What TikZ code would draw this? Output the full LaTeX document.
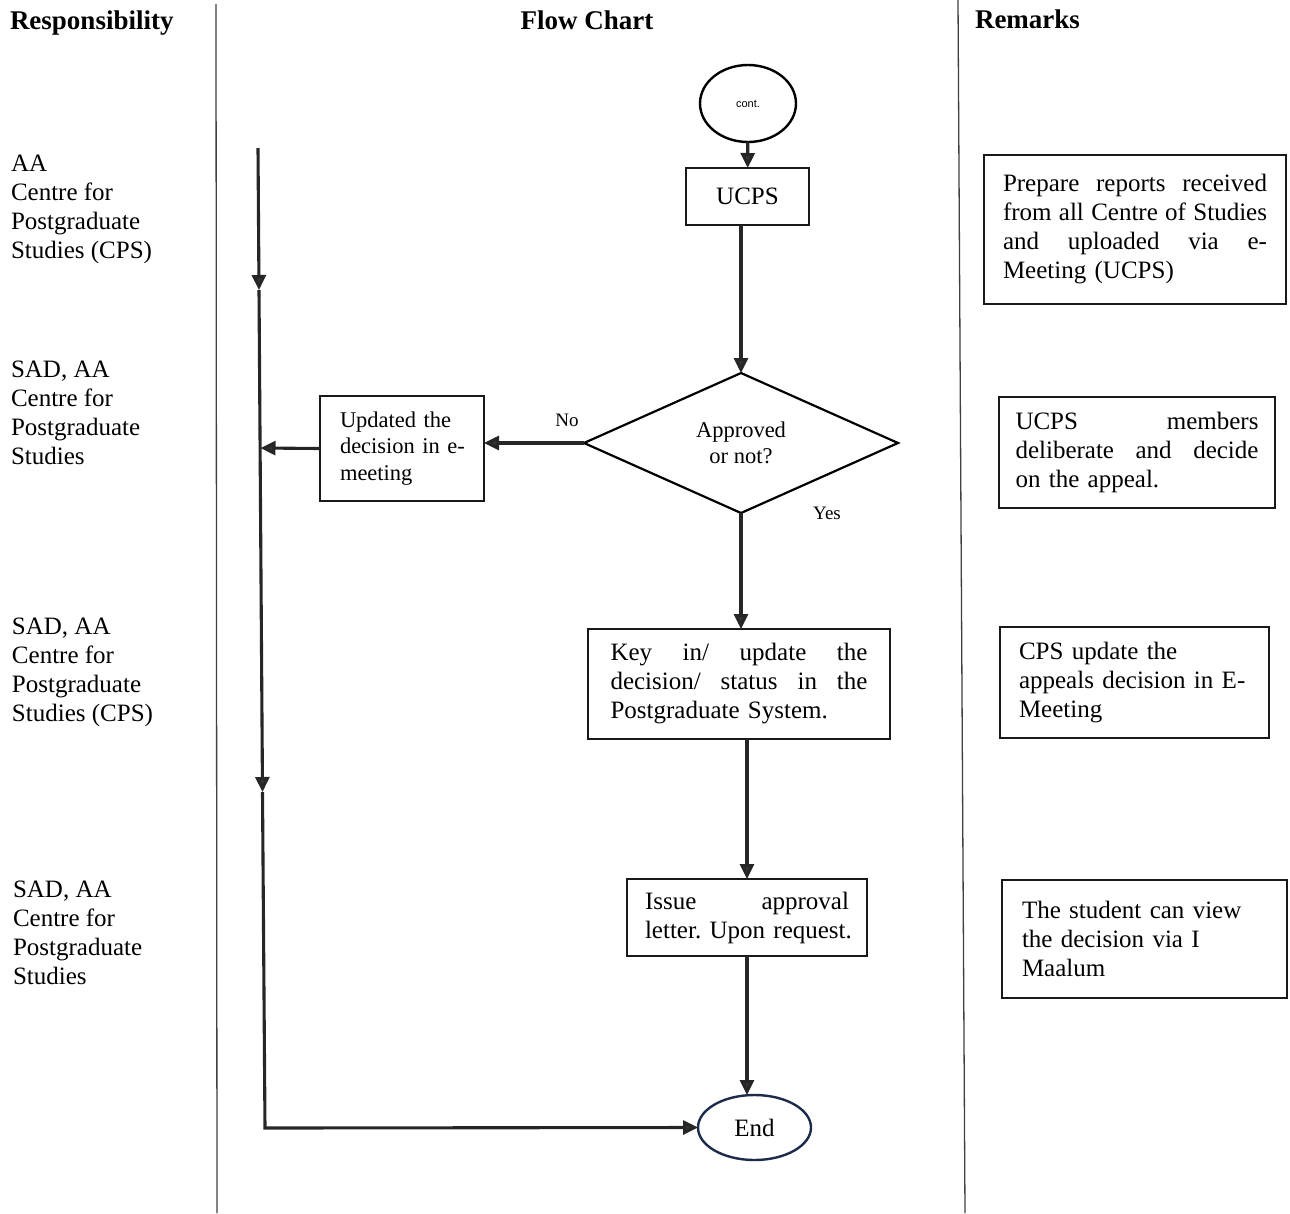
\documentclass[tikz,border=0pt]{standalone}
\usepackage{fontspec}
\setmainfont{Liberation Serif}
\newfontfamily\contfont{Liberation Sans}
\usetikzlibrary{arrows.meta,shapes.geometric}
\newcommand{\jl}[2]{\leavevmode\hbox to #1{#2}}
\definecolor{navy}{HTML}{1C2B4A}
\frenchspacing
\begin{document}
\begin{tikzpicture}[x=1pt,y=-1pt,
  every node/.style={inner sep=0pt,outer sep=0pt},
  body/.style={font=\fontsize{25}{29}\selectfont},
  small/.style={font=\fontsize{22.5}{26.5}\selectfont},
  hdr/.style={font=\fontsize{27}{30}\selectfont\bfseries},
  lbl/.style={body,align=left,anchor=west},
  bx/.style={draw=black!90,line width=1.7pt,rectangle,align=left},
  conn/.style={line width=3.1pt,draw=black!85,-{Triangle[length=15pt,width=14pt,fill=black!80]}},
  divider/.style={line width=1.3pt,draw=black!75}
]
\useasboundingbox (0,0) rectangle (1290,1213);

% column dividers
\draw[divider] (216,4) -- (217,1213);
\draw[divider] (958,0) -- (965,1213);

% headers
\node[hdr,anchor=west] (h1) at (10,23) {Responsibility};
\node[hdr] (h2) at (587,20) {Flow Chart};
\node[hdr,anchor=west] (h3) at (975,19) {Remarks};

% responsibility labels
\node[lbl] (l1) at (11,209.5) {AA\\Centre for\\Postgraduate\\Studies (CPS)};
\node[lbl] (l2) at (11,412.5) {SAD, AA\\Centre for\\Postgraduate\\Studies};
\node[lbl] (l3) at (12,672.5) {SAD, AA\\Centre for\\Postgraduate\\Studies (CPS)};
\node[lbl] (l4) at (13,932.5) {SAD, AA\\Centre for\\Postgraduate\\Studies};

% flow chart
\node[ellipse,draw=black,line width=2.4pt,minimum width=96,minimum height=77,
      font=\contfont\fontsize{11}{13}\selectfont] (cont) at (748,103.5) {cont.};
\node[bx,body,minimum width=123,minimum height=57] (ucps) at (747.5,196.5) {UCPS};
\node[diamond,draw=black,line width=2.2pt,minimum width=314,minimum height=140,
      small,align=center] (dia) at (741,443) {Approved\\or not?};
\node[bx,small,text width=124,minimum width=164,minimum height=105] (upd) at (402,448.5)
      {\mbox{Updated the}\\\mbox{decision in e-}\\\mbox{meeting}};
\node[bx,body,text width=257,minimum width=302,minimum height=110] (key) at (739,684)
      {\jl{257pt}{Key\hfill in/\hfill update\hfill the}\\\jl{257pt}{decision/\hfill status\hfill in\hfill the}\\\mbox{Postgraduate System.}};
\node[bx,body,text width=204,minimum width=240,minimum height=77] (issue) at (747,917.5)
      {\jl{204pt}{Issue\hfill approval}\\\mbox{letter. Upon request.}};
\node[ellipse,draw=navy,line width=2.4pt,minimum width=113,minimum height=65,body] (endn) at (754.5,1127.5) {End};

\node[font=\fontsize{19}{22}\selectfont] (no) at (567,420) {No};
\node[font=\fontsize{19}{22}\selectfont] (yes) at (827,513) {Yes};

% remarks
\node[bx,body,text width=264,minimum width=302,minimum height=149] (r1) at (1135,229.5)
      {\jl{264pt}{Prepare\hfill reports\hfill received}\\\jl{264pt}{from\hfill all\hfill Centre\hfill of\hfill Studies}\\\jl{264pt}{and\hfill uploaded\hfill via\hfill e-}\\\mbox{Meeting (UCPS)}};
\node[bx,body,text width=243,minimum width=276,minimum height=111] (r2) at (1137,452.5)
      {\jl{243pt}{UCPS\hfill members}\\\jl{243pt}{deliberate\hfill and\hfill decide}\\\mbox{on the appeal.}};
\node[bx,body,text width=231,minimum width=269,minimum height=111] (r3) at (1134.5,682.5)
      {\mbox{CPS update the}\\\mbox{appeals decision in E-}\\\mbox{Meeting}};
\node[bx,body,text width=245,minimum width=285,minimum height=118] (r4) at (1144.5,939)
      {\mbox{The student can view}\\\mbox{the decision via I}\\\mbox{Maalum}};

% main left line
\coordinate (ltop) at (258,148);
\coordinate (m1) at (259,290);
\coordinate (m2) at (262.5,792);
\coordinate (lcorner) at (265,1128);
\coordinate (hit) at (260.5,448);

% connectors
\draw[conn] (cont) -- (ucps);
\draw[conn] (ucps.south -| dia.north) -- (dia.north);
\draw[conn] (dia.west) -- (dia.west -| upd.east);
\draw[conn] (upd.west) -- (hit);
\draw[conn] (dia.south) -- (dia.south |- key.north);
\draw[conn] (issue.north |- key.south) -- (issue.north);
\draw[conn] (issue.south) -- (issue.south |- endn.north);
\draw[conn] (ltop) -- (m1);
\draw[conn] (m1) -- (m2);
\draw[conn] (m2) -- (lcorner) -- (endn.west);
\end{tikzpicture}
\end{document}
